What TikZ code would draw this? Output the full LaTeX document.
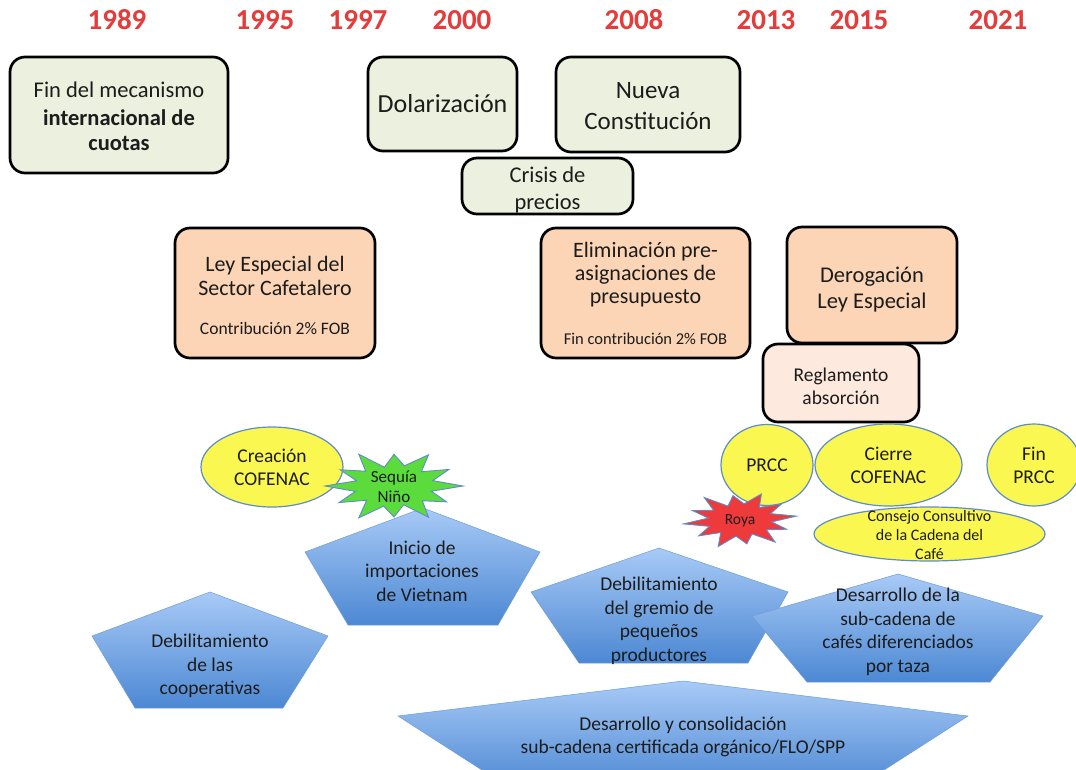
\documentclass[tikz,border=0pt]{standalone}
\usepackage{fontspec}
\setmainfont{Carlito}
\usetikzlibrary{shapes.geometric}

\newcommand\setfs[2]{\fontsize{#1}{#2}\selectfont}

\definecolor{yearred}{HTML}{E63B3B}
\definecolor{boxgreen}{HTML}{EBF1DE}
\definecolor{boxpeach}{HTML}{FBD5B5}
\definecolor{boxpale}{HTML}{FDE9DD}
\definecolor{ovalyellow}{HTML}{FAF850}
\definecolor{ovaledge}{HTML}{5F8CC8}
\definecolor{pentop}{HTML}{A8CAF6}
\definecolor{penbot}{HTML}{4C88D3}
\definecolor{penedge}{HTML}{6F9CDA}
\definecolor{stargreen}{HTML}{5CDB3C}
\definecolor{starred}{HTML}{EE3A3A}
\definecolor{ink}{HTML}{1C1C1C}

\tikzset{
  yr/.style={text=yearred, font=\bfseries\setfs{29}{31}},
  evt/.style={draw=black, line width=2.7pt, rounded corners=15pt,
    align=center, text=ink, inner sep=1pt},
  txt/.style={align=center, text=ink, inner sep=0pt},
  oval/.style={ellipse, draw=ovaledge, line width=1.2pt, fill=ovalyellow,
    inner sep=0pt, align=center, text=ink, font=\setfs{19.5}{23}},
  penta/.style={top color=pentop, bottom color=penbot, draw=penedge, line width=0.5pt},
  pentext/.style={align=center, text=ink, inner sep=0pt, font=\setfs{19.5}{23.5}},
  burst/.style={draw=ovaledge, line width=0.9pt, line join=miter},
  burstpath/.style={insert path={(0:1) -- (15:0.56) -- (30:0.88) -- (45:0.58)
    -- (60:1) -- (75:0.54) -- (90:0.86) -- (105:0.58) -- (120:1.02) -- (135:0.56)
    -- (150:0.92) -- (165:0.58) -- (180:1) -- (195:0.56) -- (210:0.9)
    -- (225:0.58) -- (240:1.02) -- (255:0.54) -- (270:0.88) -- (285:0.58)
    -- (300:1) -- (315:0.56) -- (330:0.92) -- (345:0.58) -- cycle}}
}

\begin{document}
\begin{tikzpicture}[x=1pt, y=-1pt]
\fill[white] (0,0) rectangle (1076,770);
\clip (0,0) rectangle (1076,770);

% timeline years
\node[yr] (y1989) at (117,20) {1989};
\node[yr] (y1995) at (265,20) {1995};
\node[yr] (y1997) at (358,20) {1997};
\node[yr] (y2000) at (462,20) {2000};
\node[yr] (y2008) at (634,20) {2008};
\node[yr] (y2013) at (766,20) {2013};
\node[yr] (y2015) at (859,20) {2015};
\node[yr] (y2021) at (998,20) {2021};

% institutional events
\node[evt, fill=boxgreen, minimum width=218, minimum height=116] (cuotas) at (119,115) {};
\node[txt, font=\setfs{22.5}{25}] (cuotastxt) at (119,116)
  {Fin del mecanismo\\[3pt]\textbf{internacional de}\\\textbf{cuotas}};
\node[evt, fill=boxgreen, minimum width=149, minimum height=94,
  font=\setfs{26}{30}] (dolar) at (442.5,104) {Dolarización};
\node[evt, fill=boxgreen, minimum width=184, minimum height=95] (constit) at (648,104.5) {};
\node[txt, font=\setfs{25}{31}] (constittxt) at (648,106.5) {Nueva\\Constitución};
\node[evt, fill=boxgreen, minimum width=171, minimum height=56] (crisis) at (547.5,186) {};
\node[txt, font=\setfs{22.5}{27}] (crisistxt) at (547.5,190) {Crisis de\\precios};

\node[evt, fill=boxpeach, minimum width=200, minimum height=130] (ley) at (275,293) {};
\node[txt, font=\setfs{22}{23.5}] (leytxt) at (275,276) {Ley Especial del\\Sector Cafetalero};
\node[txt, font=\setfs{17.5}{19}] (leyfob) at (275,328) {Contribución 2\% FOB};

\node[evt, fill=boxpeach, minimum width=209, minimum height=130] (elim) at (645.5,293) {};
\node[txt, font=\setfs{22}{23}] (elimtxt) at (645.5,275) {Eliminación pre-\\asignaciones de\\presupuesto};
\node[txt, font=\setfs{16.5}{18}] (elimfob) at (645.5,339) {Fin contribución 2\% FOB};

\node[evt, fill=boxpeach, minimum width=170, minimum height=116] (derog) at (872,285) {};
\node[txt, font=\setfs{22.5}{26}] (derogtxt) at (872,290) {Derogación\\Ley Especial};
\node[evt, fill=boxpale, minimum width=156, minimum height=78] (regla) at (841,383) {};
\node[txt, font=\setfs{19.5}{23}] (reglatxt) at (841,386) {Reglamento\\absorción};

% structural trends
\path[penta] (210,592) -- (328,636) -- (283,708) -- (135,708) -- (92,636) -- cycle;
\node[pentext] (coops) at (210,666) {Debilitamiento\\de las\\cooperativas};

\path[penta] (423,508) -- (540,552) -- (498,625) -- (348,625) -- (305,552) -- cycle;
\node[pentext] (vietnam) at (422,571) {Inicio de\\importaciones\\de Vietnam};

\path[penta] (659,548) -- (788,592) -- (748,663) -- (579,663) -- (531,592) -- cycle;
\node[pentext] (gremio) at (659,621) {Debilitamiento\\del gremio de\\pequeños\\productores};

\path[penta] (683,681) -- (968,716) -- (853,790) -- (513,790) -- (398,716) -- cycle;
\node[pentext] (certif) at (683,737) {Desarrollo y consolidación\\sub-cadena certificada orgánico/FLO/SPP};

\path[penta] (898,574) -- (1043,616) -- (990,682) -- (807,682) -- (752,616) -- cycle;
\node[pentext] (taza) at (898,632) {Desarrollo de la\\sub-cadena de\\cafés diferenciados\\por taza};

% programmes and councils
\node[oval, minimum width=142, minimum height=80] (creacion) at (272,467) {Creación\\COFENAC};
\node[oval, minimum width=92, minimum height=81] (prcc) at (767,465) {PRCC};
\node[oval, minimum width=147, minimum height=82] (cierre) at (888.5,465) {Cierre\\COFENAC};
\node[oval, minimum width=94, minimum height=82] (finprcc) at (1034,465) {Fin\\PRCC};
\node[oval, minimum width=231, minimum height=54] (consejo) at (929.5,534) {};
\node[txt, font=\setfs{16}{19}] (consejotxt) at (929.5,535) {Consejo Consultivo\\de la Cadena del\\Café};

% climate and pest shocks
\begin{scope}[shift={(394,486)}, xscale=69, yscale=36]
  \draw[burst, fill=stargreen, burstpath];
\end{scope}
\node[txt, font=\setfs{17}{20}] (sequia) at (394,487) {Sequía\\Niño};

\begin{scope}[shift={(740,520)}, xscale=57, yscale=28, rotate=8]
  \draw[burst, fill=starred, burstpath];
\end{scope}
\node[txt, font=\setfs{15.5}{18}] (roya) at (740,521) {Roya};

\end{tikzpicture}
\end{document}
